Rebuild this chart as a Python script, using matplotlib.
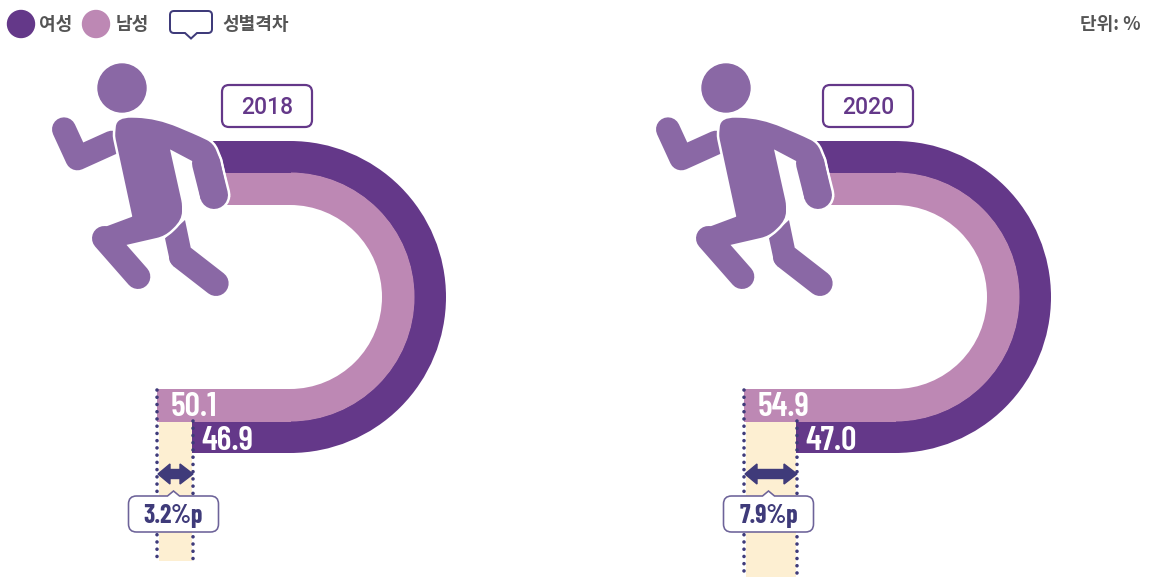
import numpy as np
import matplotlib
matplotlib.use('Agg')
import matplotlib.pyplot as plt
from matplotlib.path import Path
from matplotlib.patches import PathPatch, Wedge, Rectangle, Circle, FancyBboxPatch

plt.rcParams['font.family'] = ['Noto Sans CJK KR', 'DejaVu Sans']

years = ['2018', '2020']
women = [46.9, 47.0]
men = [50.1, 54.9]
gaps = ['3.2%p', '7.9%p']
legend_labels = ['여성', '남성', '성별격차']
unit_label = '단위: %'

DARK = '#643889'
LIGHT = '#bd88b4'
RUNNER = '#8a68a5'
NAVY = '#3f3b7a'
CREAM = '#fdefd2'
GREY = '#555555'
NARROW = ['Barlow Condensed', 'Roboto Condensed', 'Noto Sans CJK KR', 'DejaVu Sans']
YEAR_FONT = ['Roboto', 'Noto Sans CJK KR', 'DejaVu Sans']

# the end of the track is not linear in the picture, so this scale is read off it
scale_vals = [46.9, 47.0, 50.1, 54.9]
scale_px = [98, 99, 133, 151]

centers = [290, 895]
offsets = [0, 604]
gap_bottom = [561, 577]
box_left = [222, 823]
cy = 297

# runner icon, in 3x zoom pixels: x, y, corner radius
torso = [(345, 408, 10), (350, 352, 45), (470, 355, 70), (600, 410, 25), (640, 430, 22), (660, 480, 0),
         (682, 585, 0), (602, 598, 0), (580, 485, 3), (510, 448, 2), (546, 610, 10), (546, 660, 35),
         (495, 708, 25), (378, 735, 2), (320, 745, 0), (290, 690, 0), (397, 650, 2)]
back_arm = [(192, 388), (232, 475), (336, 428)]
back_arm_w = 72
front_arm_tip = [(618, 490), (642, 585)]
front_arm_w = 84
front_leg = [(313, 715), (414, 830)]
front_leg_w = 74
back_leg = [(545, 770), (648, 850)]
back_leg_w = 76
back_leg_top = [(495, 715, 0), (555, 660, 0), (572, 742, 0), (545, 770, 0), (522, 800, 0), (510, 785, 0)]


def rounded(points, dx=0, dy=0, scale=1/3):
    # polygon with quadratic corners
    pts = [(x * scale + dx, y * scale + dy, r * scale) for x, y, r in points]
    verts, codes = [], []
    n = len(pts)
    for i in range(n):
        p0 = np.array(pts[i - 1][:2])
        p1 = np.array(pts[i][:2])
        p2 = np.array(pts[(i + 1) % n][:2])
        r = pts[i][2]
        a = p1 + (p0 - p1) * min(r / np.linalg.norm(p0 - p1), 0.5)
        b = p1 + (p2 - p1) * min(r / np.linalg.norm(p2 - p1), 0.5)
        verts += [a, p1, b]
        codes += [Path.LINETO, Path.CURVE3, Path.CURVE3]
    codes[0] = Path.MOVETO
    verts.append(verts[0])
    codes.append(Path.CLOSEPOLY)
    return Path(verts, codes)


def px(w):
    return w * 72 / 100


def stroke(ax, pts, w, dx, color, z, extra=0):
    xs = [p[0] / 3 + dx for p in pts]
    ys = [p[1] / 3 for p in pts]
    ax.plot(xs, ys, color=color, lw=px(w / 3 + extra), solid_capstyle='round', solid_joinstyle='round', zorder=z)


fig = plt.figure(figsize=(11.52, 5.77), dpi=100)
ax = fig.add_axes([0, 0, 1, 1])
ax.set_xlim(0, 1152)
ax.set_ylim(577, 0)
ax.axis('off')

# legend
ax.add_patch(Circle((21, 24), 13.5, color=DARK))
ax.add_patch(Circle((96, 24), 13.5, color=LIGHT))
ax.text(39, 24, legend_labels[0], fontsize=13, color=GREY, va='center', weight='bold')
ax.text(116, 24, legend_labels[1], fontsize=13, color=GREY, va='center', weight='bold')
ax.text(222, 24, legend_labels[2], fontsize=13, color=GREY, va='center', weight='bold')
ax.text(1141, 24, unit_label, fontsize=13, color=GREY, va='center', ha='right', weight='bold')
ax.add_patch(PathPatch(rounded([(170, 11, 4), (212, 11, 4), (212, 33, 4), (197, 33, 0), (191, 38.5, 0),
                                (185, 33, 0), (170, 33, 4)], scale=1),
                       fc='white', ec=NAVY, lw=px(2)))

for i in range(2):
    cx = centers[i]
    dx = offsets[i]
    xw = cx - np.interp(women[i], scale_vals, scale_px)
    xm = cx - np.interp(men[i], scale_vals, scale_px)

    # gap strip
    ax.add_patch(Rectangle((xm + 2, 421), xw - xm - 2, gap_bottom[i] - 421, fc=CREAM, ec='none', zorder=1))

    # track
    ax.add_patch(Wedge((cx, cy), 156, -90, 90, width=32, fc=DARK, ec='none', zorder=2))
    ax.add_patch(Wedge((cx, cy), 124.5, -90, 90, width=32.5, fc=LIGHT, ec='none', zorder=2))
    ax.add_patch(Rectangle((212 + dx, 141), cx - 212 - dx + 0.5, 31.5, fc=DARK, ec='none', zorder=2))
    ax.add_patch(Rectangle((212 + dx, 172.5), cx - 212 - dx + 0.5, 32.5, fc=LIGHT, ec='none', zorder=2))
    ax.add_patch(Rectangle((xm, 389), cx - xm + 0.5, 32.5, fc=LIGHT, ec='none', zorder=2))
    ax.add_patch(Rectangle((xw, 421.5), cx - xw + 0.5, 31.5, fc=DARK, ec='none', zorder=2))

    # dotted limits
    for x, top, bottom in [(xm, 390, gap_bottom[i] - 4), (xw + 0.5, 421, gap_bottom[i])]:
        ax.plot([x, x], [top, bottom], color=NAVY, lw=px(3.6), dash_capstyle='round',
                linestyle=(0, (0.01, 2.0)), zorder=3)

    # double arrow
    ym = 474
    arrow = [(xm + 1, ym), (xm + 13, ym - 10), (xm + 13, ym - 4.5), (xw - 12, ym - 4.5), (xw - 12, ym - 10),
             (xw + 1, ym), (xw - 12, ym + 10), (xw - 12, ym + 4.5), (xm + 13, ym + 4.5), (xm + 13, ym + 10)]
    ax.fill([p[0] for p in arrow], [p[1] for p in arrow], color=NAVY, zorder=4)

    # gap callout
    mid = (xm + xw) / 2 - 0.5 * i - 1
    bx0, bx1 = mid - 45, mid + 45
    bubble = [(bx0, 496, 8), (mid - 6, 496, 0), (mid, 491, 0), (mid + 6, 496, 0), (bx1, 496, 8),
              (bx1, 532, 8), (bx0, 532, 8)]
    ax.add_patch(PathPatch(rounded(bubble, scale=1), fc='white', ec='#6d6399', lw=px(1.6), zorder=5))
    ax.text(mid, 523, gaps[i], fontsize=18.5, color=NAVY, weight='bold', family=NARROW,
            ha='center', va='baseline', zorder=6)

    # values
    ax.text(xm + 14, 416, f'{men[i]:.1f}', fontsize=24.5, color='white', weight='semibold', family=NARROW,
            ha='left', va='baseline', zorder=6)
    ax.text(xw + 9, 450, f'{women[i]:.1f}', fontsize=24.5, color='white', weight='semibold', family=NARROW,
            ha='left', va='baseline', zorder=6)

    # year box
    ax.add_patch(FancyBboxPatch((box_left[i] + 6, 91), 78, 30, boxstyle='round,pad=6,rounding_size=7',
                                fc='white', ec=DARK, lw=px(2.2), zorder=3))
    ax.text(box_left[i] + 45, 114.5, years[i], fontsize=16.5, color=DARK, family=YEAR_FONT, weight='medium',
            ha='center', va='baseline', zorder=4)

    # runner
    ax.add_patch(Circle((122 + dx, 88), 24, color=RUNNER, zorder=7))
    stroke(ax, back_arm, back_arm_w, dx, RUNNER, 7)
    ax.add_patch(PathPatch(rounded(back_leg_top, dx), fc=RUNNER, ec='none', zorder=7))
    stroke(ax, back_leg, back_leg_w, dx, RUNNER, 7)
    # white halo first, then the front figure on top of it
    ax.add_patch(PathPatch(rounded(torso, dx), fc='white', ec='white', lw=px(5), zorder=8))
    stroke(ax, front_arm_tip, front_arm_w, dx, 'white', 8, extra=5)
    stroke(ax, front_leg, front_leg_w, dx, 'white', 8, extra=5)
    ax.add_patch(PathPatch(rounded(torso, dx), fc=RUNNER, ec='none', zorder=9))
    stroke(ax, front_arm_tip, front_arm_w, dx, RUNNER, 9)
    stroke(ax, front_leg, front_leg_w, dx, RUNNER, 9)

fig.savefig('out.png', dpi=100)
